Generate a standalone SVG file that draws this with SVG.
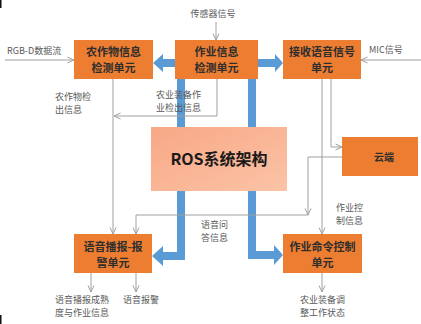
<svg xmlns="http://www.w3.org/2000/svg" width="421" height="324" viewBox="0 0 421 324">
<defs>
<marker id="ah" viewBox="0 0 8 8" refX="7.5" refY="4" markerWidth="8" markerHeight="8" markerUnits="userSpaceOnUse" orient="auto">
<path d="M1,1 L7.5,4 L1,7" fill="none" stroke="#a0a0a0" stroke-width="1"/>
</marker>
<linearGradient id="rosg" x1="0" y1="0" x2="1" y2="1">
<stop offset="0" stop-color="#F8A886"/>
<stop offset="1" stop-color="#FBC3A6"/>
</linearGradient>
<style>
.box{fill:#ED7D31;}
.bt{font-family:"Noto Sans CJK SC","Noto Sans",sans-serif;font-size:11px;font-weight:bold;fill:#2e2e2e;text-anchor:middle;}
.lb{font-family:"Noto Sans CJK SC","Noto Sans",sans-serif;font-size:9px;fill:#595959;}
.ln{fill:none;stroke:#a0a0a0;stroke-width:1;}
.blue{fill:#5B9BD5;}
</style>
</defs>
<rect width="421" height="324" fill="#ffffff"/>
<rect x="0" y="0" width="1.5" height="8" fill="#111"/>
<rect x="0" y="315" width="1.5" height="9" fill="#111"/>

<g id="blue-flows">
<path class="blue" d="M175,59 L163,59 L163,54 L153,63 L163,72 L163,67 L175,67 Z"/>
<path class="blue" d="M258,59 L275,59 L275,54 L283,63 L275,72 L275,67 L258,67 Z"/>
<path class="blue" d="M177,79 L185,79 L185,260 L163,260 L163,266 L152,256 L163,246 L163,252 L177,252 Z"/>
<path class="blue" d="M248,79 L256,79 L256,251 L274,251 L274,245 L283,255 L274,265 L274,259 L248,259 Z"/>
</g>

<g id="connectors">
<path class="ln" d="M216,22 L216,40" marker-end="url(#ah)"/>
<path class="ln" d="M5,60 L74,60" marker-end="url(#ah)"/>
<path class="ln" d="M421,60 L361,60" marker-end="url(#ah)"/>
<path class="ln" d="M113,79 L113,234" marker-end="url(#ah)"/>
<path class="ln" d="M217,79 L217,116 L114,116" marker-end="url(#ah)"/>
<path class="ln" d="M331,79 L331,147 L342,147" marker-end="url(#ah)"/>
<path class="ln" d="M322,79 L322,234" marker-end="url(#ah)"/>
<path class="ln" d="M342,157 L308,157 L308,215" marker-end="url(#ah)"/>
<path class="ln" d="M308,215 L136,215 L136,234" marker-end="url(#ah)"/>
<path class="ln" d="M91,273 L91,292" marker-end="url(#ah)"/>
<path class="ln" d="M136,273 L136,292" marker-end="url(#ah)"/>
<path class="ln" d="M322,273 L322,292" marker-end="url(#ah)"/>
</g>

<g id="ros">
<rect x="151" y="127" width="136" height="64" fill="url(#rosg)"/>
<text x="219" y="165" font-family="'Noto Sans CJK SC','Noto Sans',sans-serif" font-size="16" font-weight="bold" fill="#1a1a1a" text-anchor="middle">ROS系统架构</text>
</g>

<g id="crop-detect">
<rect class="box" x="74" y="40" width="79" height="39"/>
<text class="bt" x="113.5" y="56">农作物信息<tspan x="113.5" dy="16">检测单元</tspan></text>
</g>

<g id="work-detect">
<rect class="box" x="175" y="40" width="83" height="39"/>
<text class="bt" x="216.5" y="56">作业信息<tspan x="216.5" dy="16">检测单元</tspan></text>
</g>

<g id="voice-recv">
<rect class="box" x="283" y="40" width="78" height="39"/>
<text class="bt" x="322" y="56">接收语音信号<tspan x="322" dy="16">单元</tspan></text>
</g>

<g id="cloud">
<rect class="box" x="342" y="137" width="76" height="39"/>
<text class="bt" x="384" y="160.5" style="font-size:10px">云端</text>
</g>

<g id="voice-alarm">
<rect class="box" x="74" y="234" width="78" height="39"/>
<text class="bt" x="113" y="251">语音播报-报<tspan x="113" dy="16">警单元</tspan></text>
</g>

<g id="cmd-ctrl">
<rect class="box" x="283" y="234" width="79" height="39"/>
<text class="bt" x="322.5" y="251">作业命令控制<tspan x="322.5" dy="16">单元</tspan></text>
</g>

<g id="labels">
<text class="lb" x="213" y="16.5" text-anchor="middle">传感器信号</text>
<text class="lb" x="7" y="53.5">RGB-D数据流</text>
<text class="lb" x="369" y="52.5">MIC信号</text>
<text class="lb" x="55" y="99.7">农作物检<tspan x="55" dy="13">出信息</tspan></text>
<text class="lb" x="156" y="97.7">农业装备作<tspan x="156" dy="13">业检出信息</tspan></text>
<text class="lb" x="201" y="227.7">语音问<tspan x="201" dy="13">答信息</tspan></text>
<text class="lb" x="336" y="210.7">作业控<tspan x="336" dy="13">制信息</tspan></text>
<text class="lb" x="55" y="303.2">语音播报成熟<tspan x="55" dy="13">度与作业信息</tspan></text>
<text class="lb" x="123" y="303.2">语音报警</text>
<text class="lb" x="300" y="303.2">农业装备调<tspan x="300" dy="13">整工作状态</tspan></text>
</g>
</svg>
